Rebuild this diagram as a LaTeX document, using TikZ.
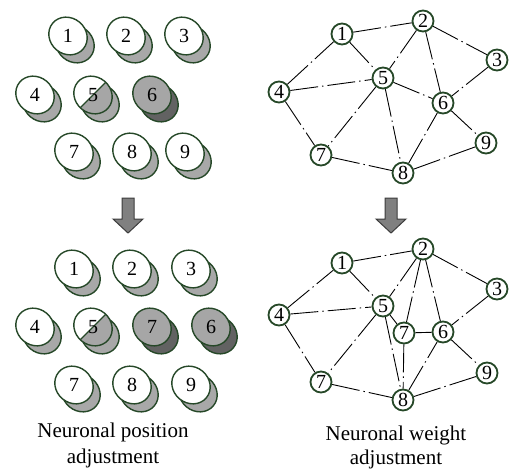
\documentclass[tikz,border=0pt]{standalone}
\usepackage{fontspec}
\setmainfont{Liberation Serif}
\definecolor{dgreen}{RGB}{38,72,40}
\definecolor{backgray}{RGB}{168,168,168}
\definecolor{frontgray}{RGB}{166,166,166}
\definecolor{darkgray2}{RGB}{98,98,98}
\definecolor{arrowfill}{RGB}{128,128,128}
\definecolor{arrowline}{RGB}{60,60,60}
\tikzset{
  nline/.style={draw=dgreen, line width=1.4pt},
  digit/.style={inner sep=0pt, font=\fontsize{20}{20}\selectfont},
  gnode/.style={circle, draw=dgreen, line width=1.8pt, fill=white, inner sep=0pt,
    minimum size=21pt, font=\fontsize{20}{20}\selectfont},
  link/.style={draw=black, line width=0.9pt, dash pattern=on 28pt off 4pt on 1.5pt off 4pt},
  blockarrow/.style={fill=arrowfill, draw=arrowline, line width=1pt, line join=miter},
  caption/.style={align=center, font=\fontsize{21}{26}\selectfont, inner sep=0pt}
}
\newcommand\neuronshape{ellipse [x radius=20, y radius=18, rotate=-40]}
% #1 name, #2 x, #3 y, #4 label, #5 back colour, #6 front colour
\newcommand\neuron[6]{%
  \begin{scope}[shift={(#2,#3)}]
    \path[nline, fill=#5] (7,8) \neuronshape;
    \path[nline, fill=#6] (0,0) \neuronshape;
  \end{scope}
  \node[digit] (#1) at (#2,#3) {#4};
}
% half neuron
\newcommand\halfneuron[4]{%
  \begin{scope}[shift={(#2,#3)}]
    \path[nline, fill=backgray] (7,8) \neuronshape;
    \begin{scope}
      \clip (0,0) \neuronshape;
      \fill[frontgray] (-25,-25) rectangle (25,25);
      \fill[white] (-25,25) -- (25,-25) -- (-25,-25) -- cycle;
      \draw[dgreen, line width=1.2pt] (-25,25) -- (25,-25);
    \end{scope}
    \path[nline] (0,0) \neuronshape;
  \end{scope}
  \node[digit] (#1) at (#2,#3) {#4};
}
\newcommand\blockdown[1]{%
  \path[blockarrow] (#1-6,198) -- (#1+6,198) -- (#1+6,219) -- (#1+15,219) -- (#1,233)
    -- (#1-15,219) -- (#1-6,219) -- cycle;
}
\begin{document}
\begin{tikzpicture}[x=1pt, y=-1pt]
\useasboundingbox (0,0) rectangle (515,471);
\fill[white] (0,0) rectangle (515,471);

% ---- left top grid
\neuron{a1}{68}{36}{1}{backgray}{white}
\neuron{a2}{126}{36}{2}{backgray}{white}
\neuron{a3}{184}{36}{3}{backgray}{white}
\neuron{a4}{35}{95}{4}{backgray}{white}
\halfneuron{a5}{93}{95}{5}
\neuron{a6}{152}{95}{6}{darkgray2}{frontgray}
\neuron{a7}{74}{152}{7}{backgray}{white}
\neuron{a8}{132}{152}{8}{backgray}{white}
\neuron{a9}{185}{152}{9}{backgray}{white}

% ---- left bottom grid
\neuron{b1}{74}{269}{1}{backgray}{white}
\neuron{b2}{132}{269}{2}{backgray}{white}
\neuron{b3}{191}{269}{3}{backgray}{white}
\neuron{b4}{35}{327}{4}{backgray}{white}
\halfneuron{b5}{93}{327}{5}
\neuron{b7m}{152}{327}{7}{darkgray2}{frontgray}
\neuron{b6}{211}{327}{6}{darkgray2}{frontgray}
\neuron{b7}{74}{385}{7}{backgray}{white}
\neuron{b8}{132}{385}{8}{backgray}{white}
\neuron{b9}{191}{385}{9}{backgray}{white}

% ---- arrows
\blockdown{128}
\blockdown{391}

% ---- top graph
\node[gnode] (c1) at (342,34) {1};
\node[gnode] (c2) at (423,21) {2};
\node[gnode] (c3) at (497,60) {3};
\node[gnode] (c4) at (279,92) {4};
\node[gnode] (c5) at (383,78) {5};
\node[gnode] (c6) at (443,103) {6};
\node[gnode] (c7) at (321,155) {7};
\node[gnode] (c8) at (403,173) {8};
\node[gnode] (c9) at (486,143) {9};
\foreach \u/\v in {c1/c2,c4/c1,c1/c5,c2/c5,c2/c6,c2/c3,c3/c6,c4/c5,c4/c7,c5/c6,c5/c7,c5/c8,c8/c6,c6/c9,c7/c8,c8/c9}
  \path[link] (\u) -- (\v);

% ---- bottom graph
\node[gnode] (d1) at (342,263) {1};
\node[gnode] (d2) at (423,249) {2};
\node[gnode] (d3) at (497,289) {3};
\node[gnode] (d4) at (279,315) {4};
\node[gnode] (d5) at (383,306) {5};
\node[gnode] (d7m) at (404,333) {7};
\node[gnode] (d6) at (443,332) {6};
\node[gnode] (d9) at (487,373) {9};
\node[gnode] (d7) at (321,382) {7};
\node[gnode] (d8) at (403,400) {8};
\foreach \u/\v in {d1/d2,d4/d1,d1/d5,d2/d5,d2/d7m,d2/d6,d2/d3,d3/d6,d4/d5,d4/d7,d5/d7m,d5/d7,d5/d8,d7m/d6,d7m/d8,d8/d6,d6/d9,d7/d8,d8/d9}
  \path[link] (\u) -- (\v);

% ---- captions
\node[caption, anchor=base] (capL) at (113,437) {Neuronal position};
\node[caption, anchor=base] (capL2) at (113,463) {adjustment};
\node[caption, anchor=base] (capR) at (396,440) {Neuronal weight};
\node[caption, anchor=base] (capR2) at (396,464) {adjustment};
\end{tikzpicture}
\end{document}
